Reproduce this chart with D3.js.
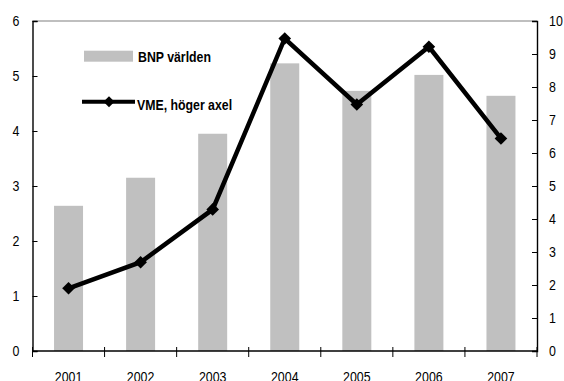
<!DOCTYPE html>
<html><head><meta charset="utf-8">
<script src="https://cdn.jsdelivr.net/npm/d3@7/dist/d3.min.js"></script>
<style>
body{margin:0;background:#fff;}
svg{display:block;}
text{font-family:"Liberation Sans",Arial,sans-serif;}
</style></head><body>
<svg id="c" width="564" height="381"></svg>
<script>
const years = ["2001","2002","2003","2004","2005","2006","2007"];
const bnp = [2.64, 3.15, 3.95, 5.23, 4.73, 5.02, 4.64];
const vme = [1.9, 2.69, 4.29, 9.47, 7.47, 9.22, 6.44];
const leftTicks = [0,1,2,3,4,5,6];
const rightTicks = [0,1,2,3,4,5,6,7,8,9,10];
const legendLabels = ["BNP världen", "VME, höger axel"];

const svg = d3.select("#c");
const L = 32.5, R = 537, T = 21, B = 351;
const xo = d3.scaleBand().domain(years).range([L, R]);
const yL = d3.scaleLinear().domain([0,6]).range([B, T]);
const yR = d3.scaleLinear().domain([0,10]).range([B, T]);

// condense a text element horizontally around its own anchor
function narrow(sel, k) {
  sel.each(function() {
    const t = d3.select(this);
    const xv = +(t.attr("x") || 0);
    t.attr("x", xv / k).attr("transform", `scale(${k},1)`);
  });
}

// top border
svg.append("line").attr("x1", L).attr("x2", R).attr("y1", T).attr("y2", T)
  .attr("stroke", "#808080").attr("stroke-width", 1.2);

// bars
svg.selectAll("rect.bar").data(bnp).join("rect").attr("class","bar")
  .attr("x", (d,i) => xo(years[i]) + xo.bandwidth()/2 - 14.5)
  .attr("width", 29)
  .attr("y", d => yL(d)).attr("height", d => B - yL(d))
  .attr("fill", "#c0c0c0");

// left axis
const gl = svg.append("g").attr("transform", `translate(${L},0)`)
  .call(d3.axisLeft(yL).tickValues(leftTicks).tickSize(-5).tickPadding(13).tickFormat(d3.format("d")));
// right axis
const gr = svg.append("g").attr("transform", `translate(${R},0)`)
  .call(d3.axisRight(yR).tickValues(rightTicks).tickSize(-5).tickPadding(12).tickFormat(d3.format("d")));
[gl, gr].forEach(g => {
  g.select(".domain").attr("stroke", "#000").attr("stroke-width", 1.4);
  g.selectAll(".tick line").attr("stroke", "#000").attr("stroke-width", 1);
  g.selectAll(".tick text").attr("font-size", 15.5).attr("fill", "#000")
   .attr("font-family", "Liberation Sans, Arial, sans-serif");
  narrow(g.selectAll(".tick text"), 0.8);
});

// bottom axis
const gb = svg.append("g").attr("transform", `translate(0,${B})`);
gb.append("line").attr("x1", L).attr("x2", R).attr("stroke", "#000").attr("stroke-width", 1.4);
const sepTicks = years.map(y => xo(y)).concat([R]);
gb.selectAll("line.t").data(sepTicks).join("line").attr("class","t")
  .attr("x1", d => d).attr("x2", d => d).attr("y1", -4).attr("y2", 6)
  .attr("stroke", "#000").attr("stroke-width", 1);
gb.selectAll("text").data(years).join("text")
  .attr("x", d => xo(d) + xo.bandwidth()/2).attr("y", 31)
  .attr("text-anchor", "middle").attr("font-size", 15.5).text(d => d);
narrow(gb.selectAll("text"), 0.8);

// line
const line = d3.line().x((d,i) => xo(years[i]) + xo.bandwidth()/2).y(d => yR(d));
svg.append("path").datum(vme).attr("d", line).attr("fill","none")
  .attr("stroke","#000").attr("stroke-width",4.5).attr("stroke-linejoin","miter");
svg.selectAll("path.m").data(vme).join("path").attr("class","m")
  .attr("d", d3.symbol().type(d3.symbolSquare).size(80))
  .attr("transform", (d,i) => `translate(${xo(years[i]) + xo.bandwidth()/2},${yR(d)}) rotate(45)`)
  .attr("fill","#000");

// legend
const lg = svg.append("g");
lg.append("rect").attr("x", 84).attr("y", 50.7).attr("width", 49).attr("height", 11).attr("fill", "#c0c0c0");
lg.append("text").attr("x", 138).attr("y", 61.7).attr("font-size", 14).attr("font-weight","bold").text(legendLabels[0]);
lg.append("line").attr("x1", 82).attr("x2", 135).attr("y1", 101.7).attr("y2", 101.7).attr("stroke","#000").attr("stroke-width",4);
lg.append("path").attr("d", d3.symbol().type(d3.symbolSquare).size(60)).attr("transform","translate(109,101.7) rotate(45)").attr("fill","#000");
lg.append("text").attr("x", 137).attr("y", 110).attr("font-size", 14).attr("font-weight","bold").text(legendLabels[1]);
narrow(lg.selectAll("text"), 0.88);
</script>
</body></html>
